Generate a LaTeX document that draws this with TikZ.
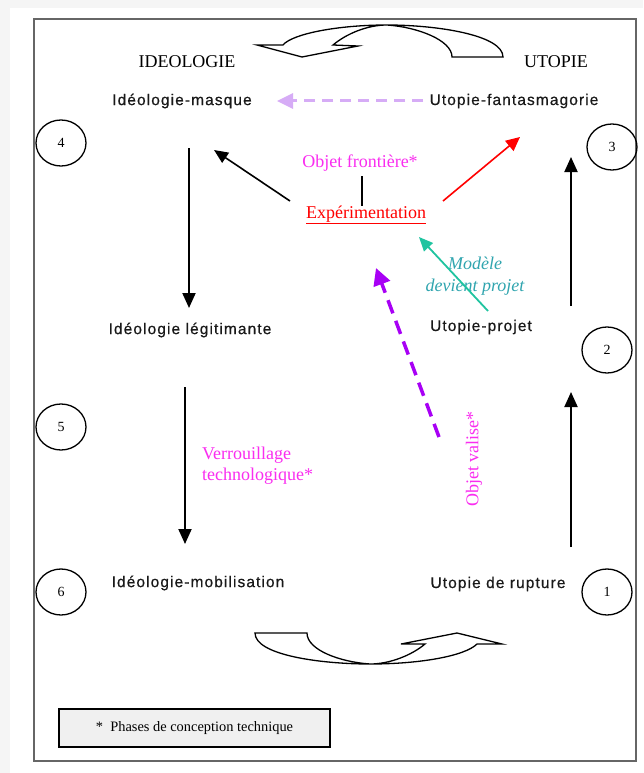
\documentclass[tikz,border=0pt]{standalone}
\usepackage{fontspec}
\setmainfont{Liberation Serif}
\newfontfamily\arialfont[LetterSpace=7,FakeBold=0.5]{Liberation Sans}
\usetikzlibrary{arrows.meta,shapes.geometric}

\definecolor{pinkmag}{RGB}{250,45,240}
\definecolor{lavender}{RGB}{214,172,246}
\definecolor{violetdash}{RGB}{168,0,245}
\definecolor{tealarrow}{RGB}{32,196,160}
\definecolor{tealtext}{RGB}{48,165,175}

\begin{document}
\begin{tikzpicture}[x=1pt,y=-1pt,
    phase/.style={inner sep=0pt,text=black!90,font=\arialfont\fontsize{15.5}{18}\selectfont},
    pole/.style={inner sep=0pt,font=\fontsize{18}{20}\selectfont},
    concept/.style={inner sep=0pt,text=pinkmag,font=\fontsize{18}{21}\selectfont},
    stage/.style={draw,ellipse,line width=1.3pt,minimum width=50,minimum height=46,inner sep=0pt,font=\fontsize{14}{16}\selectfont},
    flow/.style={line width=2pt,-{Triangle[width=13pt,length=15pt]}},
    turn/.style={draw,line width=1.3pt,fill=white,line join=miter}]
    \useasboundingbox (0,0) rectangle (643,773);
    \fill[black!4] (0,0) rectangle (643,773);
    \fill[white] (10,8) rectangle (643,773);
    \draw[line width=1.8pt,black!60] (34,19) rectangle (636,761);

    \node[pole] (ideo) at (187,62) {IDEOLOGIE};
    \node[pole] (utop) at (556,62) {UTOPIE};

    \node[phase] (masque) at (182,101) {Idéologie-masque};
    \node[phase] (fantas) at (514,101) {Utopie-fantasmagorie};
    \node[phase] (legit) at (190,330) {Idéologie légitimante};
    \node[phase] (projet) at (481,327) {Utopie-projet};
    \node[phase] (mobil) at (198,583) {Idéologie-mobilisation};
    \node[phase] (rupture) at (498,584) {Utopie de rupture};

    \node[stage] (s1) at (607,592) {1};
    \node[stage] (s2) at (607,350) {2};
    \node[stage] (s3) at (612,147) {3};
    \node[stage] (s4) at (61,143) {4};
    \node[stage] (s5) at (61,427) {5};
    \node[stage] (s6) at (61,592) {6};

    \node[concept] (frontiere) at (360,163) {Objet frontière*};
    \node[inner sep=0pt,text=red,font=\fontsize{18}{21}\selectfont] (exper) at (366,215) {\underline{Expérimentation}};
    \node[concept,align=left,anchor=west] (verrou) at (202,466) {Verrouillage\\technologique*};
    \node[inner sep=0pt,text=tealtext,align=center,font=\itshape\fontsize{18}{22}\selectfont] (modele) at (475,276) {Modèle\\devient projet};
    \node[concept,rotate=90] (valise) at (474,459) {Objet valise*};

    \coordinate (masque-out) at (189,148);
    \coordinate (legit-in) at (189,308);
    \coordinate (legit-out) at (185,387);
    \coordinate (mobil-in) at (185,544);
    \coordinate (rupture-out) at (571,547);
    \coordinate (projet-in) at (571,392);
    \coordinate (projet-out) at (571,306);
    \coordinate (fantas-in) at (571,157);
    \coordinate (fantas-out) at (423,101);
    \coordinate (masque-in) at (277,101);
    \coordinate (exper-left) at (290,201);
    \coordinate (masque-tip) at (214,150);
    \coordinate (exper-right) at (443,201);
    \coordinate (fantas-tip) at (520,137);
    \coordinate (projet-tail) at (488,311);
    \coordinate (exper-tip) at (419,237);
    \coordinate (valise-tail) at (439,437);
    \coordinate (exper-low) at (376,268);

    \draw[flow] (masque-out) -- (legit-in);
    \draw[flow] (legit-out) -- (mobil-in);
    \draw[flow] (rupture-out) -- (projet-in);
    \draw[flow] (projet-out) -- (fantas-in);

    \draw[line width=3pt,lavender,dash pattern=on 11pt off 7pt,-{Triangle[width=15pt,length=16pt]}] (fantas-out) -- (masque-in);
    \draw[line width=1.6pt,-{Triangle[width=12pt,length=14pt]}] (exper-left) -- (masque-tip);
    \draw[line width=1.6pt,red,-{Triangle[width=13pt,length=14pt]}] (exper-right) -- (fantas-tip);
    \draw[line width=1.8pt,tealarrow,-{Triangle[width=12pt,length=14pt]}] (projet-tail) -- (exper-tip);
    \draw[line width=3.5pt,violetdash,dash pattern=on 14pt off 8pt,-{Triangle[width=17pt,length=17pt]}] (valise-tail) -- (exper-low);
    \draw[line width=1.6pt,shorten <=5pt] ([xshift=2pt]frontiere.south) -- ([xshift=-4pt]exper.north);

    \draw[turn] (503,57) .. controls (503,35) and (437,25) .. (387,25)
        .. controls (337,25) and (292,34) .. (283,45) -- (257,45) -- (302,57) -- (358,46) -- (333,45)
        .. controls (346,34) and (367,25) .. (387,25)
        .. controls (417,27) and (452,40) .. (452,57) -- cycle;
    \draw[turn] (255,633) .. controls (255,655) and (320,664) .. (370,664)
        .. controls (420,664) and (465,656) .. (477,644) -- (502,644) -- (457,633) -- (401,644) -- (425,644)
        .. controls (412,655) and (390,664) .. (370,664)
        .. controls (340,662) and (307,650) .. (307,633) -- cycle;

    \node[draw,line width=1.4pt,fill=black!6,minimum width=271,minimum height=38,font=\fontsize{14.4}{16}\selectfont] (legend) at (194.5,728) {*\ \ Phases de conception technique};
\end{tikzpicture}
\end{document}
